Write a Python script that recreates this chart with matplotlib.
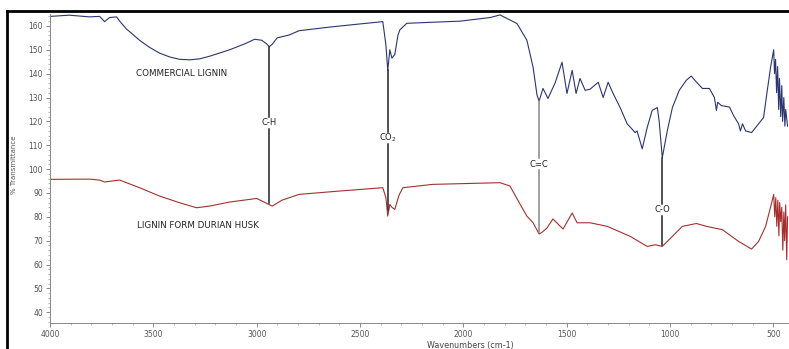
import matplotlib
matplotlib.use("Agg")
import matplotlib.pyplot as plt
from matplotlib.lines import Line2D
import numpy as np

# FTIR spectra, wavenumber (cm-1) vs % transmittance
wn_commercial = [4000, 3906, 3809, 3760, 3736, 3712, 3678, 3663, 3630, 3600, 3567, 3518,
                 3470, 3421, 3373, 3324, 3276, 3228, 3131, 3058, 3010, 2976, 2952, 2939,
                 2925, 2901, 2843, 2795, 2649, 2504, 2390, 2375, 2366, 2356, 2346, 2332,
                 2317, 2308, 2274, 2162, 2017, 1872, 1823, 1775, 1741, 1693, 1663, 1644,
                 1634, 1615, 1591, 1557, 1523, 1499, 1474, 1455, 1436, 1411, 1387, 1348,
                 1324, 1300, 1276, 1242, 1208, 1169, 1160, 1135, 1111, 1087, 1062, 1053,
                 1038, 1014, 989, 956, 922, 898, 873, 844, 810, 786, 776, 770, 752, 713,
                 693, 669, 660, 650, 635, 606, 572, 548, 534, 514, 499, 495, 490, 485,
                 480, 475, 471, 465, 460, 456, 450, 445, 441, 432]
t_commercial = [164, 164.5, 163.8, 164, 161.8, 163.5, 163.8, 162, 158.7, 156.5, 154, 151,
                148.6, 147, 146, 145.8, 146.2, 147.3, 150, 152.5, 154.4, 154, 152.5, 151.3,
                152.3, 155, 156.2, 158, 159.5, 160.8, 161.8, 152, 141.4, 150, 146.5, 148,
                156, 158.3, 161.1, 161.5, 162, 163.5, 164.6, 162.5, 161, 154, 142.7, 131,
                128.5, 133.8, 129.6, 136, 144.8, 131.7, 141.4, 131.7, 138, 133, 133.5, 136.4,
                130, 136.4, 131.7, 125.8, 119, 115.3, 116, 108.5, 117.4, 124.6, 125.8, 120,
                104.8, 116, 125.8, 133, 137.2, 139, 136.5, 133.8, 133.8, 130, 124.6, 128, 126.6, 126,
                122.4, 119, 116, 119, 116, 115.3, 119, 121.6, 130.5, 142.8, 150, 140, 146, 132,
                143, 125, 138, 122, 135, 120, 130, 118, 125, 118]

wn_durian = [4000, 3809, 3760, 3736, 3663, 3567, 3470, 3373, 3291, 3228, 3131, 3034,
             3000, 2925, 2877, 2795, 2600, 2390, 2375, 2366, 2356, 2346, 2332, 2312,
             2293, 2148, 1823, 1775, 1726, 1693, 1663, 1634, 1620, 1596, 1567, 1518,
             1474, 1450, 1387, 1304, 1193, 1111, 1072, 1038, 989, 941, 873, 824, 747,
             669, 606, 572, 538, 509, 499, 494, 489, 484, 479, 474, 470, 465, 460, 455,
             450, 446, 441, 436, 432]
t_durian = [95.7, 95.8, 95.4, 94.6, 95.4, 92.2, 88.7, 85.9, 83.8, 84.5, 86.2, 87.3,
            87.7, 84.5, 87, 89.4, 90.8, 92.2, 88, 80.3, 85.2, 84, 83.1, 89,
            92.2, 93.6, 94.3, 92.9, 85.3, 80.3, 77.5, 72.8, 73.5, 75.3, 79.1, 74.9,
            81.6, 77.5, 77.5, 76, 71.8, 67.6, 68.3, 67.6, 71.8, 76, 77.2, 76, 74.6,
            69.7, 66.5, 69.7, 76, 85.9, 89.4, 80, 88, 76, 87, 72, 86, 78, 84, 66,
            82, 70, 85, 62, 80]

# band assignments: label, wavenumber, label height, line ends (top, bottom)
bands = ["C-H", "CO$_2$", "C=C", "C-O"]
band_wn = [2939, 2366, 1634, 1038]
band_label_y = [119.5, 113, 102, 83]
band_top = [151.3, 141.4, 128.5, 104.8]
band_bottom = [85.9, 83, 73.5, 68]
band_color = ["#222222", "#222222", "#888888", "#222222"]

fig = plt.figure(figsize=(7.89, 3.49), dpi=100)
ax = fig.add_axes([50 / 789, 1 - 323 / 349, 1 - 50 / 789, 309 / 349])

ax.plot(wn_commercial, t_commercial, color="#2b3570", lw=0.8)
ax.plot(wn_durian, t_durian, color="#a4302e", lw=0.8)

for name, w, ly, top, bot, c in zip(bands, band_wn, band_label_y, band_top, band_bottom, band_color):
    ax.plot([w, w], [top, ly + 2.5], color=c, lw=1.1)
    ax.plot([w, w], [ly - 2.5, bot], color=c, lw=1.1)
    ax.text(w, ly, name, ha="center", va="center", fontsize=6, color="#222222")

ax.text(3365, 140, "COMMERCIAL LIGNIN", ha="center", va="center", fontsize=6.3, color="#222222")
ax.text(3285, 76.5, "LIGNIN FORM DURIAN HUSK", ha="center", va="center", fontsize=6.3, color="#222222")

ax.set_xlim(4000, 425)
ax.set_ylim(35.5, 165)
ax.set_xticks([4000, 3500, 3000, 2500, 2000, 1500, 1000, 500])
ax.set_xticks(np.arange(500, 4000, 100), minor=True)
ax.set_yticks(np.arange(40, 161, 10))
ax.set_yticks(np.arange(36, 165, 2), minor=True)
ax.tick_params(labelsize=5.5, labelcolor="#555555", color="#777777", length=3, width=0.6, pad=2)
ax.tick_params(which="minor", length=1.5, width=0.5, color="#999999")
for s in ["top", "right"]:
    ax.spines[s].set_visible(False)
for s in ["left", "bottom"]:
    ax.spines[s].set_color("#888888")
    ax.spines[s].set_linewidth(0.7)

fig.text(14 / 789, 1 - 165 / 349, "% Transmittance", rotation=90, ha="center", va="center",
         fontsize=5, color="#555555")
fig.text(470 / 789, 1 - 345.5 / 349, "Wavenumbers (cm-1)", ha="center", va="center",
         fontsize=5.8, color="#444444")

# black frame along the top and left edges
fig.add_artist(Line2D([7 / 789, 7 / 789], [0, 1 - 11 / 349], color="black", lw=2,
                      transform=fig.transFigure))
fig.add_artist(Line2D([7 / 789, 1], [1 - 11 / 349, 1 - 11 / 349], color="black", lw=2,
                      transform=fig.transFigure))

fig.savefig("out.png", dpi=100)
